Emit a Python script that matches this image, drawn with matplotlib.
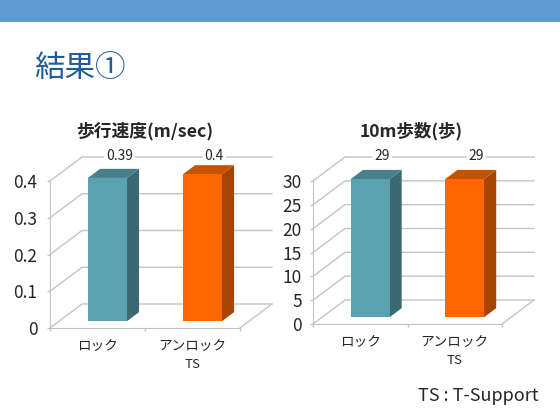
import matplotlib
matplotlib.use("Agg")
import matplotlib.pyplot as plt
from matplotlib.patches import Polygon, Rectangle

plt.rcParams['font.family'] = ['Noto Sans CJK JP', 'DejaVu Sans']

categories = ["ロック", "アンロック"]
speed = [0.39, 0.4]
speed_ticks = [0, 0.1, 0.2, 0.3, 0.4]
steps = [29, 29]
steps_ticks = [0, 5, 10, 15, 20, 25, 30]

W, H = 560, 420
GRID = "#c4c4c4"
FRONT = ["#5ba2b1", "#ff6600"]
SIDE = ["#3c6a73", "#a64400"]
TOP = ["#46808c", "#c45200"]
TEXT = "#262626"

fig = plt.figure(figsize=(5.6, 4.2), dpi=100)

# header band and slide title
fig.add_artist(Rectangle((0, 1 - 22 / H), 1, 22 / H, transform=fig.transFigure, color="#5f9bd1", lw=0))
fig.text(34 / W, 1 - 69 / H, "結果①", fontsize=22, color="#1f5c99", va="center", ha="left")
fig.text(538 / W, 1 - 396 / H, "TS : T-Support", fontsize=13, color=TEXT, va="center", ha="right")


def chart(left, right, y0, y1, title, title_x, title_size, values, ticks, cat_y, pad):
    ax = fig.add_axes([left / W, 1 - y0 / H, (right - left) / W, (y0 - y1) / H])
    ax.patch.set_alpha(0)
    top = ticks[-1]
    ax.set_xlim(0, 2)
    ax.set_ylim(0, top)
    dx = 32 * 2 / (right - left)
    dy = 24 * top / (y0 - y1)

    # walls and floor
    for t in ticks:
        ax.plot([0, dx, 2 + dx], [t, t + dy, t + dy], color=GRID, lw=1, clip_on=False, zorder=1)
    ax.plot([2, 2 + dx], [0, dy], color=GRID, lw=1, clip_on=False, zorder=1)

    # bars
    d0, d1 = 0.28, 0.66
    bw = 0.41
    for i, v in enumerate(values):
        x0 = i + 0.305 + d0 * dx
        x1 = x0 + bw
        b = d0 * dy
        t = v + d0 * dy
        sx = (d1 - d0) * dx
        sy = (d1 - d0) * dy
        ax.add_patch(Polygon([(x1, b), (x1 + sx, b + sy), (x1 + sx, t + sy), (x1, t)], color=SIDE[i], lw=0, clip_on=False, zorder=2))
        ax.add_patch(Polygon([(x0, t), (x1, t), (x1 + sx, t + sy), (x0 + sx, t + sy)], color=TOP[i], lw=0, clip_on=False, zorder=2))
        ax.add_patch(Rectangle((x0, b), bw, v, color=FRONT[i], lw=0, clip_on=False, zorder=3))
        ax.text(i + 0.5 + 0.68 * dx, top + dy + 0.01 * top, str(v), fontsize=10, color=TEXT, ha="center", va="center",
                bbox=dict(fc="white", ec="none", pad=1.5), zorder=4)
        ax.annotate(categories[i], (i + 0.5, 0), xytext=(0, -(cat_y - y0) * 0.72), textcoords="offset points",
                    fontsize=9.8, color=TEXT, ha="center", va="center", annotation_clip=False)
    ax.annotate("TS", (1.5, 0), xytext=(0, -(cat_y + 19 - y0) * 0.72), textcoords="offset points",
                fontsize=9.5, color=TEXT, ha="center", va="center", annotation_clip=False)

    ax.set_xticks([0, 1, 2])
    ax.set_xticklabels([])
    ax.set_yticks(ticks)
    ax.set_yticklabels([str(t) for t in ticks], fontsize=12.5, color=TEXT)
    ax.tick_params(axis="both", color=GRID, length=2.5, width=1, pad=pad)
    for s in ["top", "right"]:
        ax.spines[s].set_visible(False)
    for s in ["left", "bottom"]:
        ax.spines[s].set_color(GRID)
    fig.text(title_x / W, 1 - 131 / H, title, fontsize=title_size, color=TEXT, ha="center", va="center", fontweight="bold")


chart(50, 240, 328, 181, "歩行速度(m/sec)", 145, 12.8, speed, speed_ticks, 346, 6.5)
chart(313, 502, 324, 181, "10m歩数(歩)", 411, 12.6, steps, steps_ticks, 342, 5.5)

fig.savefig("out.png", dpi=100)
